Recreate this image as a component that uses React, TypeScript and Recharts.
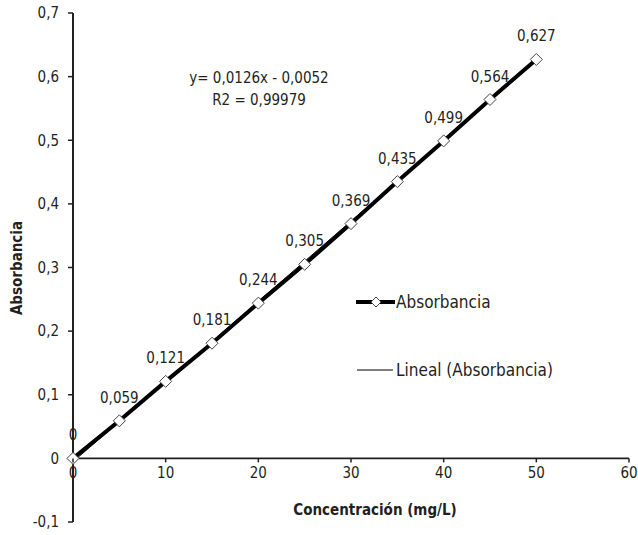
import React from "react"
import {
  LineChart,
  Line,
  XAxis,
  YAxis,
  LabelList,
  ReferenceLine,
} from "recharts"

const concentrations = [0, 5, 10, 15, 20, 25, 30, 35, 40, 45, 50]
const absorbances = [0, 0.059, 0.121, 0.181, 0.244, 0.305, 0.369, 0.435, 0.499, 0.564, 0.627]
// trendline end points (y = 0,0126x - 0,0052)
const trendX = [0, 50]
const trendY = [-0.0052, 0.6248]
const xTicks = [0, 10, 20, 30, 40, 50, 60]
const yTicks = [-0.1, 0, 0.1, 0.2, 0.3, 0.4, 0.5, 0.6, 0.7]

const FONT = '"DejaVu Sans Condensed", "Liberation Sans Narrow", "Roboto", sans-serif'
const INK = "#231f20"

const W = 638
const H = 535
const TOP = 13
const BOTTOM = 13
const Y_MIN = -0.1
const Y_MAX = 0.7
const PLOT_H = H - TOP - BOTTOM
// pixel distance from bottom of the plot up to y = 0
const ZERO_SHIFT = (PLOT_H * (0 - Y_MIN)) / (Y_MAX - Y_MIN)

const comma = (v: number) => String(v).replace(".", ",")

const data = concentrations.map((x, i) => ({ x, abs: absorbances[i] }))
const trend = trendX.map((x, i) => ({ x, trend: trendY[i] }))

function Diamond(props: any) {
  const { cx, cy } = props
  if (cx == null || cy == null) return null
  const r = 6
  return (
    <polygon
      points={`${cx},${cy - r} ${cx + r},${cy} ${cx},${cy + r} ${cx - r},${cy}`}
      fill="#fff"
      stroke="#444"
      strokeWidth={1}
    />
  )
}

function XTick(props: any) {
  const { x, y, payload } = props
  const y0 = y - ZERO_SHIFT
  return (
    <g>
      <line x1={x} x2={x} y1={y0} y2={y0 + 4} stroke={INK} strokeWidth={1.5} />
      <text
        x={x}
        y={y0 + 20}
        textAnchor="middle"
        fontFamily={FONT}
        fontSize={15}
        fill={INK}
      >
        {payload.value}
      </text>
    </g>
  )
}

export default function App() {
  return (
    <div style={{ position: "absolute", left: 0, top: 0, width: W, height: H, background: "#fff" }}>
      <LineChart
        width={W}
        height={H}
        margin={{ top: TOP, right: 9, left: 8, bottom: 0 }}
      >
        <XAxis
          type="number"
          dataKey="x"
          domain={[0, 60]}
          ticks={xTicks}
          axisLine={false}
          tickLine={false}
          tickSize={0}
          tickMargin={0}
          tick={<XTick />}
          height={BOTTOM}
        />
        <YAxis
          type="number"
          domain={[Y_MIN, Y_MAX]}
          ticks={yTicks}
          width={65}
          axisLine={{ stroke: INK, strokeWidth: 2 }}
          tickLine={{ stroke: INK, strokeWidth: 1.5 }}
          tickSize={5}
          tickMargin={9}
          tickFormatter={comma}
          tick={{ fontFamily: FONT, fontSize: 15, fill: INK }}
        />
        <ReferenceLine y={0} stroke={INK} strokeWidth={1.6} />
        <Line
          data={trend}
          dataKey="trend"
          stroke="#000"
          strokeWidth={1}
          dot={false}
          isAnimationActive={false}
        />
        <Line
          data={data}
          dataKey="abs"
          stroke="#000"
          strokeWidth={4}
          dot={<Diamond />}
          isAnimationActive={false}
        >
          <LabelList
            dataKey="abs"
            position="top"
            offset={18}
            formatter={(v: any) => comma(v)}
            style={{ fontFamily: FONT, fontSize: 15, fill: INK }}
          />
        </Line>
      </LineChart>

      <div
        style={{
          position: "absolute",
          left: 5,
          top: 268,
          transform: "translate(0, -50%) rotate(-90deg)",
          transformOrigin: "center",
          width: 24,
          display: "flex",
          justifyContent: "center",
        }}
      >
        <span style={{ fontFamily: FONT, fontSize: 15, fontWeight: 700, color: INK, whiteSpace: "nowrap" }}>
          Absorbancia
        </span>
      </div>

      <div
        style={{
          position: "absolute",
          left: 375,
          top: 501,
          transform: "translateX(-50%)",
          fontFamily: FONT,
          fontSize: 15,
          fontWeight: 700,
          color: INK,
          whiteSpace: "nowrap",
        }}
      >
        Concentración (mg/L)
      </div>

      <div
        style={{
          position: "absolute",
          left: 259,
          top: 67,
          transform: "translateX(-50%)",
          fontFamily: FONT,
          fontSize: 15,
          lineHeight: "22px",
          color: INK,
          textAlign: "center",
          whiteSpace: "nowrap",
        }}
      >
        <div>y= 0,0126x - 0,0052</div>
        <div>R2 = 0,99979</div>
      </div>

      <div style={{ position: "absolute", left: 356, top: 291, fontFamily: FONT, fontSize: 17, color: INK }}>
        <div style={{ display: "flex", alignItems: "center", height: 22 }}>
          <svg width={39} height={12}>
            <line x1={0} x2={39} y1={6} y2={6} stroke="#000" strokeWidth={4} />
            <polygon points="20,1 25,6 20,11 15,6" fill="#fff" stroke="#444" />
          </svg>
          <span style={{ marginLeft: 1 }}>Absorbancia</span>
        </div>
        <div style={{ display: "flex", alignItems: "center", height: 22, marginTop: 46 }}>
          <svg width={39} height={12}>
            <line x1={1} x2={37} y1={6} y2={6} stroke="#000" strokeWidth={1.2} />
          </svg>
          <span style={{ marginLeft: 1 }}>Lineal (Absorbancia)</span>
        </div>
      </div>
    </div>
  )
}
